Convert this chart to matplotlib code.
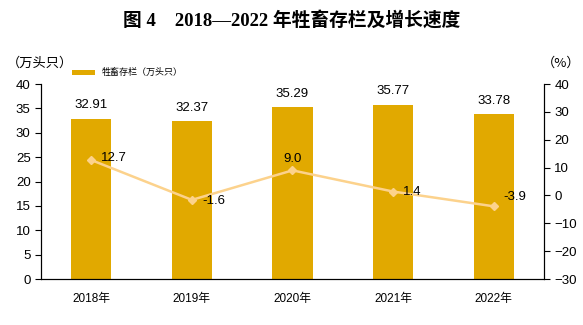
import matplotlib.pyplot as plt
import numpy as np

# ==============================
# DATA
# ==============================
years = ["2018年", "2019年", "2020年", "2021年", "2022年"]
stock = [32.91, 32.37, 35.29, 35.77, 33.78]
growth = [12.7, -1.6, 9.0, 1.4, -3.9]

BAR_COLOR = "#E1A900"
LINE_COLOR = "#FCD28C"
CJK = ["Liberation Sans", "Noto Sans CJK SC"]

plt.rcParams["font.family"] = CJK

fig = plt.figure(figsize=(5.83, 3.25), dpi=100)
ax = fig.add_axes([0.0703, 0.1415, 0.8627, 0.6])
ax2 = ax.twinx()

x = np.arange(len(years))
ax.bar(x, stock, width=0.4, color=BAR_COLOR, label="牲畜存栏（万头只）", zorder=2)
for xi, v in zip(x, stock):
    ax.text(xi, v + 1.5, f"{v:.2f}", ha="center", va="bottom", fontsize=9.5)

ax.set_ylim(0, 40)
ax.set_yticks(range(0, 41, 5))
ax.set_xlim(-0.5, len(years) - 0.5)
ax.set_xticks(x)
ax.set_xticklabels(years, fontsize=8.5)
ax.tick_params(axis="x", length=0, pad=10)
ax.tick_params(axis="y", labelsize=9.5, length=4, direction="out")

ax2.plot(x, growth, color=LINE_COLOR, linewidth=1.8, marker="D", markersize=4, zorder=3)
ax2.set_ylim(-30, 40)
ax2.set_yticks(range(-30, 41, 10))
ax2.tick_params(axis="y", labelsize=9.5, length=4, direction="out")

# label offsets (x, y in data units) around each line point
offsets = [(0.1, 0.6), (0.1, -0.4), (0.0, 4.0), (0.1, 0.0), (0.1, 3.3)]
for xi, v, (dx, dy) in zip(x, growth, offsets):
    ha = "center" if xi == 2 else "left"
    ax2.text(xi + dx, v + dy, f"{v:.1f}", ha=ha, va="center", fontsize=9.5)

for a in (ax, ax2):
    a.spines["top"].set_visible(False)
    for s in a.spines.values():
        s.set_linewidth(0.8)

fig.text(0.5, 0.937, "图 4    2018—2022 年牲畜存栏及增长速度",
         ha="center", va="center", fontsize=13.5, fontweight="bold",
         family=["Liberation Serif", "Noto Sans CJK SC"])
fig.text(0.012, 0.805, "（万头只）", ha="left", va="center", fontsize=9.5,
         family=["Noto Sans CJK SC"])
fig.text(0.995, 0.805, "（%）", ha="right", va="center", fontsize=9.5,
         family=["Noto Sans CJK SC"])

ax.legend(loc="upper left", bbox_to_anchor=(0.055, 1.1), frameon=False,
          handlelength=2.5, handleheight=0.5, borderaxespad=0,
          prop={"family": ["Noto Sans CJK SC"], "size": 6.5})

fig.savefig("out.png", dpi=100)
